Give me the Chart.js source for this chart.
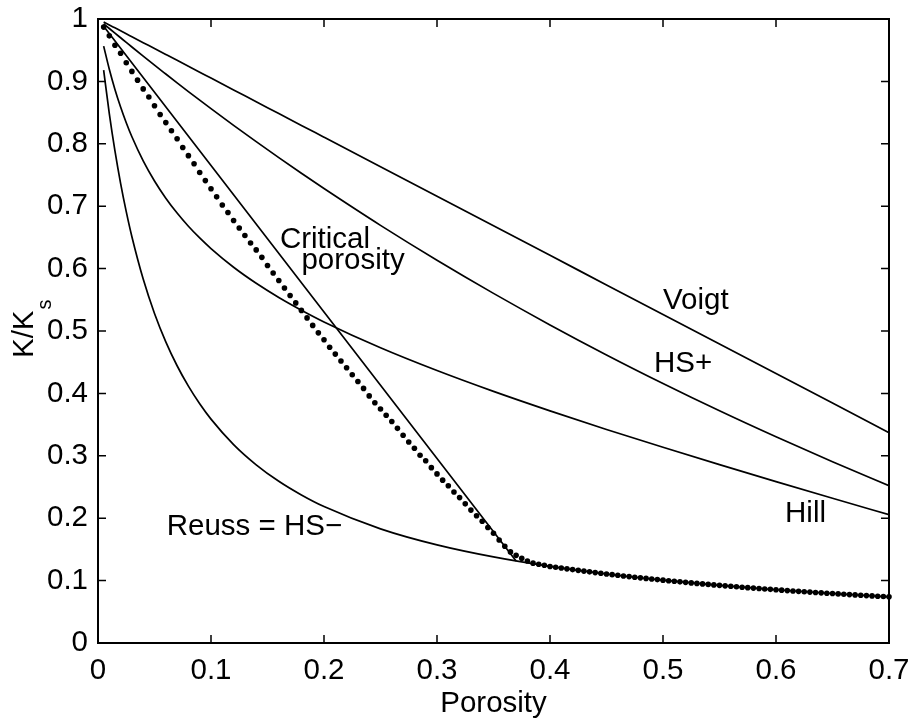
<!DOCTYPE html>
<html>
<head>
<meta charset="utf-8">
<title>K/Ks vs Porosity</title>
<script src="https://cdn.jsdelivr.net/npm/chart.js@4.4.1/dist/chart.umd.min.js"></script>
<style>
    html, body { margin: 0; padding: 0; background: #fff; }
</style>
</head>
<body>
<canvas id="grafica_limites" width="911" height="720"></canvas>
<script>
// Límites elásticos del módulo volumétrico normalizado contra la porosidad.

// Malla de porosidad para las curvas continuas
var porosidadCurvas = [0.005, 0.01, 0.015, 0.02, 0.025, 0.03, 0.04, 0.05, 0.06, 0.07,
    0.08, 0.09, 0.1, 0.12, 0.14, 0.16, 0.18, 0.2, 0.25, 0.3,
    0.35, 0.4, 0.45, 0.5, 0.55, 0.6, 0.65, 0.7];

var voigt = [0.9953, 0.9905, 0.9858, 0.9811, 0.9763, 0.9716, 0.9621, 0.9527, 0.9432, 0.9337,
    0.9242, 0.9148, 0.9053, 0.8864, 0.8674, 0.8485, 0.8295, 0.8106, 0.7633, 0.7159,
    0.6686, 0.6212, 0.5739, 0.5265, 0.4792, 0.4318, 0.3845, 0.3371];

var hsMas = [0.9924, 0.9848, 0.9773, 0.9699, 0.9625, 0.9551, 0.9405, 0.9260, 0.9118, 0.8977,
    0.8837, 0.8699, 0.8563, 0.8295, 0.8034, 0.7778, 0.7527, 0.7283, 0.6693, 0.6134,
    0.5603, 0.5098, 0.4617, 0.4159, 0.3721, 0.3304, 0.2904, 0.2521];

var hill = [0.9566, 0.9195, 0.8872, 0.8589, 0.8338, 0.8113, 0.7727, 0.7404, 0.7129, 0.6890,
    0.6679, 0.6491, 0.6321, 0.6022, 0.5765, 0.5538, 0.5334, 0.5146, 0.4731, 0.4366,
    0.4032, 0.3720, 0.3422, 0.3136, 0.2858, 0.2586, 0.2319, 0.2056];

var reuss = [0.9180, 0.8484, 0.7886, 0.7367, 0.6912, 0.6510, 0.5832, 0.5281, 0.4826, 0.4443,
    0.4116, 0.3834, 0.3588, 0.3180, 0.2856, 0.2591, 0.2372, 0.2186, 0.1829, 0.1572,
    0.1379, 0.1227, 0.1106, 0.1007, 0.0924, 0.0853, 0.0793, 0.0740];

// Recta de porosidad crítica (hasta el punto sobre Reuss)
var porosidadCritica = [0.005, 0.37];
var critica = [0.9883, 0.1314];

// Curva punteada
var porosidadPuntos = [0.005, 0.01, 0.015, 0.02, 0.025, 0.03, 0.035, 0.04, 0.045, 0.05,
    0.055, 0.06, 0.065, 0.07, 0.075, 0.08, 0.085, 0.09, 0.095, 0.1,
    0.105, 0.11, 0.115, 0.12, 0.125, 0.13, 0.135, 0.14, 0.145, 0.15,
    0.155, 0.16, 0.165, 0.17, 0.175, 0.18, 0.185, 0.19, 0.195, 0.2,
    0.205, 0.21, 0.215, 0.22, 0.225, 0.23, 0.235, 0.24, 0.245, 0.25,
    0.255, 0.26, 0.265, 0.27, 0.275, 0.28, 0.285, 0.29, 0.295, 0.3,
    0.305, 0.31, 0.315, 0.32, 0.325, 0.33, 0.335, 0.34, 0.345, 0.35,
    0.355, 0.36, 0.365, 0.37, 0.375, 0.38, 0.385, 0.39, 0.395, 0.4,
    0.405, 0.41, 0.415, 0.42, 0.425, 0.43, 0.435, 0.44, 0.445, 0.45,
    0.455, 0.46, 0.465, 0.47, 0.475, 0.48, 0.485, 0.49, 0.495, 0.5,
    0.505, 0.51, 0.515, 0.52, 0.525, 0.53, 0.535, 0.54, 0.545, 0.55,
    0.555, 0.56, 0.565, 0.57, 0.575, 0.58, 0.585, 0.59, 0.595, 0.6,
    0.605, 0.61, 0.615, 0.62, 0.625, 0.63, 0.635, 0.64, 0.645, 0.65,
    0.655, 0.66, 0.665, 0.67, 0.675, 0.68, 0.685, 0.69, 0.695, 0.7];

var puntos = [0.987, 0.973, 0.958, 0.945, 0.930, 0.916, 0.902, 0.888, 0.875, 0.861,
    0.847, 0.834, 0.821, 0.808, 0.794, 0.781, 0.768, 0.754, 0.741, 0.728,
    0.715, 0.702, 0.690, 0.677, 0.665, 0.653, 0.641, 0.630, 0.618, 0.605,
    0.593, 0.581, 0.569, 0.557, 0.545, 0.533, 0.521, 0.509, 0.497, 0.486,
    0.474, 0.463, 0.452, 0.441, 0.430, 0.419, 0.408, 0.396, 0.385, 0.375,
    0.365, 0.355, 0.344, 0.333, 0.322, 0.312, 0.301, 0.292, 0.281, 0.271,
    0.261, 0.252, 0.242, 0.233, 0.223, 0.213, 0.204, 0.195, 0.185, 0.176,
    0.165, 0.155, 0.146, 0.1405, 0.1357, 0.1314, 0.128, 0.1262, 0.1245, 0.1227,
    0.1214, 0.1201, 0.1188, 0.1176, 0.1164, 0.1152, 0.1140, 0.1128, 0.1117, 0.1106,
    0.1095, 0.1085, 0.1074, 0.1064, 0.1054, 0.1044, 0.1035, 0.1025, 0.1016, 0.1007,
    0.0998, 0.0989, 0.0980, 0.0972, 0.0963, 0.0955, 0.0947, 0.0939, 0.0931, 0.0924,
    0.0916, 0.0909, 0.0901, 0.0894, 0.0887, 0.0880, 0.0873, 0.0866, 0.0860, 0.0853,
    0.0847, 0.0840, 0.0834, 0.0828, 0.0822, 0.0816, 0.0810, 0.0804, 0.0798, 0.0793,
    0.0787, 0.0782, 0.0776, 0.0771, 0.0766, 0.0760, 0.0755, 0.0750, 0.0745, 0.0740];

var etiquetasX = ['0', '0.1', '0.2', '0.3', '0.4', '0.5', '0.6', '0.7'];
var etiquetasY = ['0', '0.1', '0.2', '0.3', '0.4', '0.5', '0.6', '0.7', '0.8', '0.9', '1'];

// Textos dentro de la gráfica: esquina izquierda y línea base en unidades de datos
var anotaciones = [
    { texto: 'Voigt', x: 0.5, y: 0.535 },
    { texto: 'HS+', x: 0.492, y: 0.4345 },
    { texto: 'Hill', x: 0.608, y: 0.194 },
    { texto: 'Reuss = HS\u2212', x: 0.0608, y: 0.1727 },
    { texto: 'Critical', x: 0.161, y: 0.6333 },
    { texto: 'porosity', x: 0.180, y: 0.599 }
];

var fuente = '"Liberation Sans", Arial, Helvetica, sans-serif';
var tamFuente = 29.5;

function pares(xs, ys) {
    var res = [];
    for (var i = 0; i < xs.length; i++) {
        res.push({ x: xs[i], y: ys[i] });
    }
    return res;
}

function lineaNegra(datos) {
    return {
        data: datos,
        borderColor: '#000',
        borderWidth: 1.7,
        pointRadius: 0,
        fill: false,
        cubicInterpolationMode: 'monotone'
    };
}

// Sin relleno extra por las etiquetas de los extremos
function ajustarEscala(escala, grosor) {
    if (escala.isHorizontal()) {
        escala.height = grosor;
    } else {
        escala.width = grosor;
    }
    escala.paddingLeft = 0;
    escala.paddingRight = 0;
    escala.paddingTop = 0;
    escala.paddingBottom = 0;
}

// Marco, marcas hacia adentro, anotaciones y título del eje Y
var marcoPlugin = {
    id: 'marco',
    afterDraw: function (chart) {
        var ctx = chart.ctx;
        var area = chart.chartArea;
        var sx = chart.scales.x;
        var sy = chart.scales.y;
        var largo = 8;

        ctx.save();
        ctx.strokeStyle = '#000';
        ctx.lineWidth = 1.5;
        ctx.beginPath();
        sx.ticks.forEach(function (t) {
            var px = sx.getPixelForValue(t.value);
            ctx.moveTo(px, area.bottom);
            ctx.lineTo(px, area.bottom - largo);
            ctx.moveTo(px, area.top);
            ctx.lineTo(px, area.top + largo);
        });
        sy.ticks.forEach(function (t) {
            var py = sy.getPixelForValue(t.value);
            ctx.moveTo(area.left, py);
            ctx.lineTo(area.left + largo, py);
            ctx.moveTo(area.right, py);
            ctx.lineTo(area.right - largo, py);
        });
        ctx.stroke();

        ctx.lineWidth = 2;
        ctx.strokeRect(area.left, area.top, area.right - area.left, area.bottom - area.top);

        ctx.fillStyle = '#000';
        ctx.font = tamFuente + 'px ' + fuente;
        ctx.textAlign = 'left';
        ctx.textBaseline = 'alphabetic';
        anotaciones.forEach(function (a) {
            ctx.fillText(a.texto, sx.getPixelForValue(a.x), sy.getPixelForValue(a.y));
        });

        // K/K con subíndice s, girado
        ctx.translate(33, 358);
        ctx.rotate(-Math.PI / 2);
        ctx.fillText('K/K', 0, 0);
        var ancho = ctx.measureText('K/K').width;
        ctx.font = '20px ' + fuente;
        ctx.fillText('s', ancho + 1, 18);
        ctx.restore();
    }
};

var context = document.getElementById('grafica_limites').getContext('2d');

var chart = new Chart(context, {
    type: 'line',
    data: {
        datasets: [
            {
                data: pares(porosidadPuntos, puntos),
                showLine: false,
                pointRadius: 2.8,
                pointBackgroundColor: '#000',
                pointBorderWidth: 0,
                clip: false
            },
            lineaNegra(pares(porosidadCurvas, voigt)),
            lineaNegra(pares(porosidadCurvas, hsMas)),
            lineaNegra(pares(porosidadCurvas, hill)),
            lineaNegra(pares(porosidadCurvas, reuss)),
            lineaNegra(pares(porosidadCritica, critica))
        ]
    },
    options: {
        responsive: false,
        animation: false,
        devicePixelRatio: 1,
        layout: { padding: { left: 0, right: 22, top: 19, bottom: 0 } },
        plugins: {
            legend: { display: false },
            tooltip: { enabled: false }
        },
        scales: {
            x: {
                type: 'linear',
                min: 0,
                max: 0.7,
                grid: { display: false, drawTicks: false },
                border: { display: false },
                ticks: {
                    stepSize: 0.1,
                    autoSkip: false,
                    maxRotation: 0,
                    padding: 10,
                    color: '#000',
                    font: { family: fuente, size: tamFuente },
                    callback: function (v) { return etiquetasX[Math.round(v * 10)]; }
                },
                title: {
                    display: true,
                    text: 'Porosity',
                    color: '#000',
                    font: { family: fuente, size: tamFuente, lineHeight: 1.1 },
                    padding: { top: 0, bottom: 0 }
                },
                afterFit: function (escala) { ajustarEscala(escala, 77); }
            },
            y: {
                min: 0,
                max: 1,
                grid: { display: false, drawTicks: false },
                border: { display: false },
                ticks: {
                    stepSize: 0.1,
                    padding: 10,
                    color: '#000',
                    font: { family: fuente, size: tamFuente },
                    callback: function (v) { return etiquetasY[Math.round(v * 10)]; }
                },
                afterFit: function (escala) { ajustarEscala(escala, 98); }
            }
        }
    },
    plugins: [marcoPlugin]
});
</script>
</body>
</html>
